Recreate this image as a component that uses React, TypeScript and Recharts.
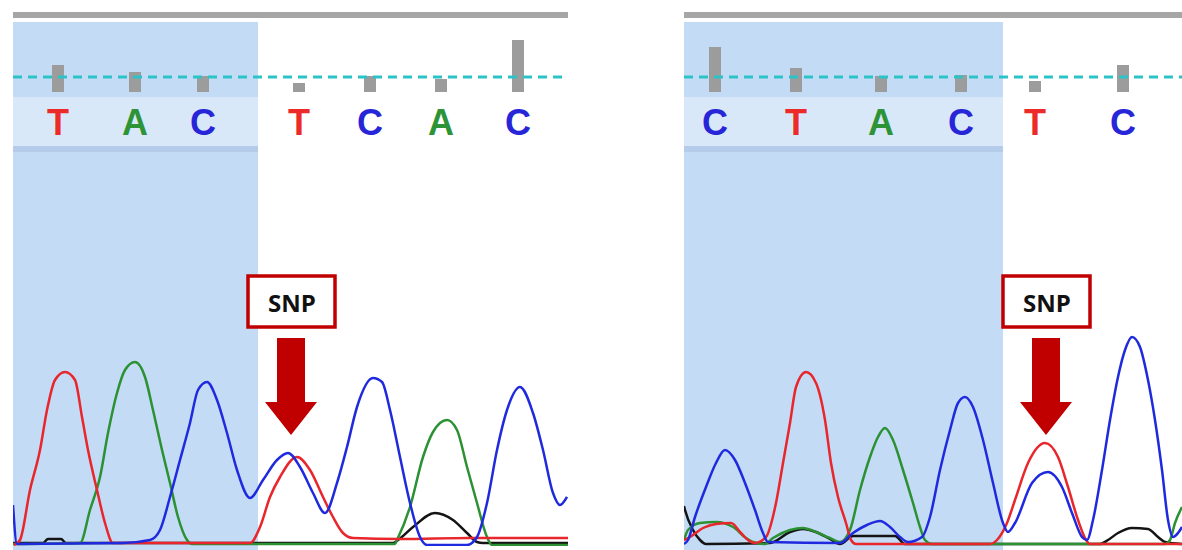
import React from "react";
import { ComposedChart, Bar, Line, XAxis, YAxis, ReferenceLine, ReferenceDot } from "recharts";

type Pair = [number, number];

// base calls: scan position of each call and its quality bar
const leftBases = ["T", "A", "C", "T", "C", "A", "C"];
const leftCallScan = [45, 122, 190, 286, 357, 428, 505];
const leftQuality = [27, 20, 16, 9, 16, 13, 52];

const rightBases = ["C", "T", "A", "C", "T", "C"];
const rightCallScan = [31, 112, 197, 277, 351, 439];
const rightQuality = [45, 24, 16, 17, 11, 27];

const qualityCutoff = 15;

// end of the highlighted (selected) region, in scans
const leftTrimEnd = 245;
const rightTrimEnd = 319;

// SNP: [scan, signal] where the arrow points
const leftSnp: Pair = [278, 111];
const rightSnp: Pair = [362, 111];

// traces, [scan, signal]
const leftT: Pair[] = [
  [1, 1], [7, 6], [17, 56], [27, 96], [34, 136], [42, 166], [52, 174], [62, 166], [69, 129], [75, 96],
  [84, 56], [92, 23], [100, 3], [130, 3], [237, 3], [247, 19], [257, 49], [267, 69], [284, 89], [297, 76],
  [310, 49], [320, 29], [330, 13], [340, 8], [387, 7], [457, 8], [555, 8],
];
const leftA: Pair[] = [
  [0, 2], [67, 3], [77, 36], [87, 69], [95, 113], [104, 153], [112, 176], [122, 184], [132, 169], [140, 136],
  [149, 96], [157, 63], [165, 29], [174, 6], [179, 2], [382, 2], [384, 6], [397, 39], [410, 89], [420, 114],
  [434, 126], [444, 116], [454, 79], [464, 43], [474, 9], [479, 1], [555, 1],
];
const leftC: Pair[] = [
  [0, 41], [4, 2], [110, 3], [137, 6], [147, 16], [157, 49], [167, 86], [177, 123], [185, 156], [194, 164],
  [204, 146], [214, 113], [224, 76], [237, 48], [250, 66], [264, 86], [275, 93], [287, 79], [300, 53],
  [312, 33], [324, 63], [334, 99], [344, 139], [360, 168], [369, 164], [377, 136], [387, 89], [397, 43],
  [407, 9], [414, 1], [454, 1], [464, 9], [474, 43], [484, 96], [494, 136], [507, 159], [520, 133],
  [530, 96], [540, 53], [547, 41], [554, 49],
];
const leftG: Pair[] = [
  [0, 3], [30, 3], [35, 7], [48, 7], [53, 3], [380, 3], [385, 6], [400, 19], [422, 33], [440, 26],
  [454, 13], [464, 4], [470, 3], [555, 3],
];

const rightT: Pair[] = [
  [0, 6], [6, 9], [19, 18], [32, 22], [47, 23], [57, 13], [64, 6], [71, 3], [82, 9], [92, 43], [99, 83],
  [106, 123], [112, 159], [122, 174], [132, 163], [141, 126], [147, 83], [154, 49], [162, 23], [167, 6],
  [172, 2], [306, 2], [313, 6], [323, 23], [331, 46], [344, 83], [361, 103], [374, 89], [384, 59],
  [394, 26], [401, 8], [406, 2], [498, 2],
];
const rightA: Pair[] = [
  [0, 6], [4, 16], [16, 23], [32, 24], [49, 19], [62, 8], [69, 4], [81, 2], [89, 8], [106, 16], [119, 18],
  [132, 14], [146, 8], [156, 4], [166, 16], [176, 56], [186, 89], [194, 109], [201, 118], [209, 106],
  [219, 76], [229, 43], [236, 19], [241, 6], [248, 2], [481, 2], [486, 6], [491, 23], [498, 39],
];
const rightC: Pair[] = [
  [0, 2], [4, 6], [11, 29], [22, 59], [32, 83], [41, 96], [51, 86], [61, 63], [71, 36], [79, 13], [84, 4],
  [156, 3], [169, 13], [183, 21], [196, 25], [206, 19], [216, 9], [224, 4], [238, 9], [246, 29], [256, 76],
  [266, 116], [274, 143], [281, 149], [289, 139], [299, 106], [309, 63], [319, 23], [324, 14], [331, 23],
  [348, 63], [364, 74], [378, 59], [388, 33], [398, 9], [403, 6], [409, 26], [418, 76], [426, 126],
  [434, 169], [441, 196], [448, 209], [456, 199], [464, 166], [471, 126], [478, 76], [484, 26], [489, 9],
  [494, 13], [498, 19],
];
const rightG: Pair[] = [
  [0, 40], [1, 36], [9, 16], [16, 6], [22, 2], [86, 3], [106, 14], [119, 17], [132, 14], [146, 7],
  [156, 2], [169, 10], [211, 10], [221, 2], [416, 2], [424, 6], [434, 13], [448, 18], [464, 17], [474, 9],
  [481, 4], [498, 2],
];

const baseColor: Record<string, string> = { T: "#ec2a2a", A: "#2c9436", C: "#2626d8", G: "#111111" };
const traceColor = { T: "#e8262b", A: "#2b9133", C: "#1f2ade", G: "#141414" };

const toRows = (pts: Pair[]) => pts.map(([s, v]) => ({ s, v }));

function SnpMarker({ cx, cy }: any) {
  if (cx == null || cy == null) return null;
  return (
    <g>
      <rect x={cx - 43} y={cy - 159} width={87} height={51} fill="#ffffff" stroke="#c00000" strokeWidth={3.5} />
      <text
        x={cx + 1}
        y={cy - 133}
        textAnchor="middle"
        dominantBaseline="central"
        fontFamily="'Open Sans', sans-serif"
        fontWeight={700}
        fontSize={24}
        fill="#111"
      >
        SNP
      </text>
      <polygon
        points={`${cx - 14},${cy - 97} ${cx + 14},${cy - 97} ${cx + 14},${cy - 33} ${cx + 26},${cy - 33} ${cx},${cy} ${cx - 26},${cy - 33} ${cx - 14},${cy - 33}`}
        fill="#c00000"
      />
    </g>
  );
}

interface PanelProps {
  left: number;
  width: number;
  bases: string[];
  calls: number[];
  quality: number[];
  trimEnd: number;
  traces: { key: "T" | "A" | "C" | "G"; data: Pair[] }[];
  snp: Pair;
}

function Panel({ left, width, bases, calls, quality, trimEnd, traces, snp }: PanelProps) {
  const rows = calls.map((s, i) => ({ s, q: quality[i], base: bases[i] }));

  const renderTick = (p: any) => {
    const row = rows.find(r => r.s === p.payload.value);
    if (!row) return <g />;
    return (
      <text
        x={p.x}
        y={p.y + 43}
        textAnchor="middle"
        fontFamily="'Liberation Sans', Arial, sans-serif"
        fontWeight={700}
        fontSize={36}
        fill={baseColor[row.base]}
      >
        {row.base}
      </text>
    );
  };

  return (
    <div style={{ position: "absolute", left, top: 0, width, height: 550, overflow: "hidden" }}>
      <div style={{ position: "absolute", left: 0, top: 12, width, height: 6, background: "#a6a6a6" }} />
      <div style={{ position: "absolute", left: 0, top: 22, width: trimEnd, height: 528, background: "#c4dbf6" }} />
      <div style={{ position: "absolute", left: 0, top: 97, width: trimEnd, height: 49, background: "#d9e8f9" }} />
      <div style={{ position: "absolute", left: 0, top: 146, width: trimEnd, height: 6, background: "#b4cce9" }} />

      <div style={{ position: "absolute", left: 0, top: 22 }}>
        <ComposedChart width={width} height={128} data={rows} margin={{ top: 0, right: 0, bottom: 0, left: 0 }}>
          <XAxis
            dataKey="s"
            type="number"
            domain={[0, width]}
            ticks={calls}
            interval={0}
            height={58}
            axisLine={false}
            tickLine={false}
            tickSize={0}
            tickMargin={0}
            tick={renderTick}
            allowDataOverflow
          />
          <YAxis hide domain={[0, 70]} allowDataOverflow />
          <ReferenceLine y={qualityCutoff} stroke="#2cc3c7" strokeWidth={3} strokeDasharray="9 6" />
          <Bar dataKey="q" fill="#9c9c9c" barSize={12} isAnimationActive={false} />
        </ComposedChart>
      </div>

      <div style={{ position: "absolute", left: 0, top: 154 }}>
        <ComposedChart width={width} height={392} margin={{ top: 0, right: 0, bottom: 0, left: 0 }}>
          <XAxis dataKey="s" type="number" domain={[0, width]} hide allowDataOverflow />
          <YAxis hide domain={[0, 392]} allowDataOverflow />
          {traces.map(t => (
            <Line
              key={t.key}
              data={toRows(t.data)}
              dataKey="v"
              type="monotone"
              stroke={traceColor[t.key]}
              strokeWidth={2.5}
              dot={false}
              activeDot={false}
              isAnimationActive={false}
            />
          ))}
          <ReferenceDot x={snp[0]} y={snp[1]} r={0} ifOverflow="visible" shape={SnpMarker} />
        </ComposedChart>
      </div>
    </div>
  );
}

export default function App() {
  return (
    <div style={{ position: "absolute", left: 0, top: 0, width: 1182, height: 550, background: "#ffffff", overflow: "hidden" }}>
      <Panel
        left={13}
        width={555}
        bases={leftBases}
        calls={leftCallScan}
        quality={leftQuality}
        trimEnd={leftTrimEnd}
        snp={leftSnp}
        traces={[
          { key: "G", data: leftG },
          { key: "A", data: leftA },
          { key: "T", data: leftT },
          { key: "C", data: leftC },
        ]}
      />
      <Panel
        left={684}
        width={498}
        bases={rightBases}
        calls={rightCallScan}
        quality={rightQuality}
        trimEnd={rightTrimEnd}
        snp={rightSnp}
        traces={[
          { key: "G", data: rightG },
          { key: "A", data: rightA },
          { key: "T", data: rightT },
          { key: "C", data: rightC },
        ]}
      />
    </div>
  );
}
